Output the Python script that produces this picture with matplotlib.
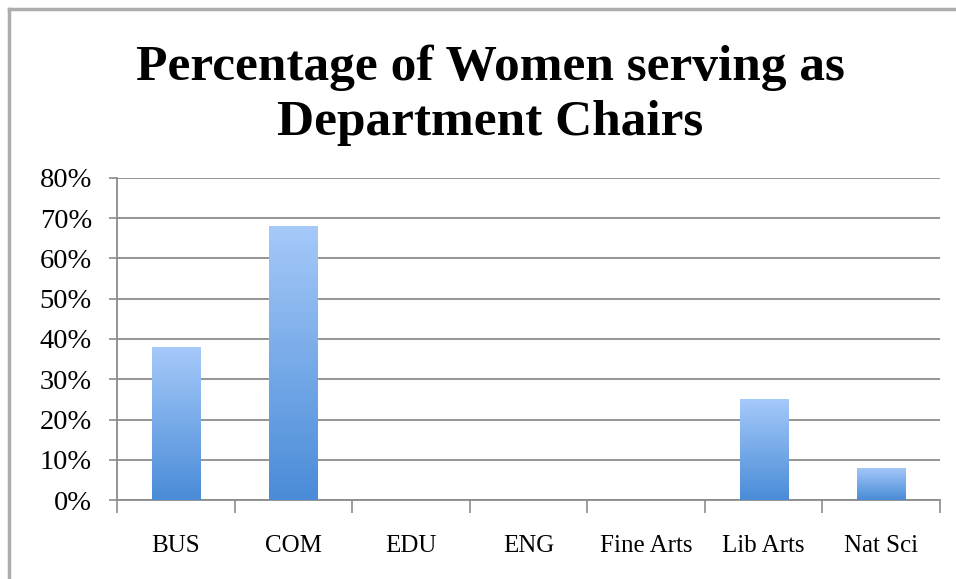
import numpy as np
import matplotlib.pyplot as plt
from matplotlib.colors import LinearSegmentedColormap
from matplotlib.lines import Line2D

# values
categories = ["BUS", "COM", "EDU", "ENG", "Fine Arts", "Lib Arts", "Nat Sci"]
pct = [38, 68, 0, 0, 0, 25, 8]
yticks = [0, 10, 20, 30, 40, 50, 60, 70, 80]
title_lines = ["Percentage of Women serving as", "Department Chairs"]

serif = ["Liberation Serif", "DejaVu Serif"]

fig = plt.figure(figsize=(9.56, 5.79), dpi=100)
ax = fig.add_axes([117 / 956, 1 - 500 / 579, 823 / 956, 322 / 579])

x = np.arange(len(categories))
bars = ax.bar(x, pct, width=0.41, color="none", edgecolor="none", zorder=3)

# vertical gradient inside each bar (light at top, darker at bottom)
grad = LinearSegmentedColormap.from_list("g", ["#4a8cd8", "#a5c9f9"])
for b in bars:
    h = b.get_height()
    if h <= 0:
        continue
    x0 = b.get_x()
    w = b.get_width()
    img = ax.imshow(np.linspace(0, 1, 100).reshape(-1, 1), cmap=grad, origin="lower",
                    extent=[x0, x0 + w, 0, h], aspect="auto", zorder=3)
    img.set_clip_path(b)

ax.set_xlim(-0.5, len(categories) - 0.5)
ax.set_ylim(0, 80)

ax.set_yticks(yticks)
ax.set_yticklabels([f"{v}%" for v in yticks], fontsize=20.5, family=serif)
ax.yaxis.grid(True, color="#8c8c8c", linewidth=1.3, zorder=0)
ax.tick_params(axis="y", length=6, width=1.2, color="#8c8c8c", pad=12)

ax.set_xticks(x)
ax.set_xticklabels(categories, fontsize=18, family=serif)
ax.set_xticks(np.arange(len(categories) + 1) - 0.5, minor=True)
ax.tick_params(axis="x", which="major", length=0, pad=25)
ax.tick_params(axis="x", which="minor", length=9, width=1.2, color="#8c8c8c")

for s in ["top", "right"]:
    ax.spines[s].set_visible(False)
for s in ["left", "bottom"]:
    ax.spines[s].set_color("#8c8c8c")
    ax.spines[s].set_linewidth(1.3)

# two title lines, placed by baseline
for line, yb in zip(title_lines, [80, 135]):
    fig.text(490 / 956, 1 - yb / 579, line, ha="center", va="baseline",
             fontsize=37, fontweight="bold", family=serif)

# frame lines along top and left edge
fig.add_artist(Line2D([9 / 956, 1], [1 - 9 / 579] * 2, transform=fig.transFigure,
                      color="#adadad", linewidth=2.5))
fig.add_artist(Line2D([9 / 956] * 2, [0, 1 - 9 / 579], transform=fig.transFigure,
                      color="#adadad", linewidth=2.5))

fig.savefig("out.png", dpi=100)
